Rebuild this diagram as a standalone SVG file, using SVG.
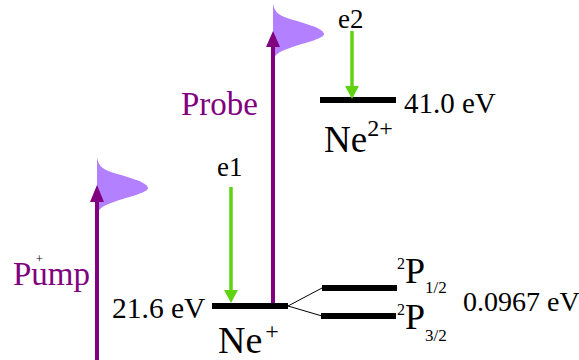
<svg xmlns="http://www.w3.org/2000/svg" width="579" height="360" viewBox="0 0 579 360">
<style>
text{fill:#000}
.lbl{fill:#800080}
.lvl{stroke:#000;stroke-width:6;fill:none}
.thin{stroke:#000;stroke-width:1;fill:none}
.pl{stroke:#800080;stroke-width:4;fill:none}
.gl{stroke:#5fd312;stroke-width:3.5;fill:none}
.pulse{fill:#b380ff}
</style>
<defs>
<path id="pulseShape" d="M0,0 C1,8 5,12 14,15 C30,20 51,25 51,31 C51,36 30,40 14,46 C5,49 1,53 0,58 Z"/>
</defs>
<rect width="579" height="360" fill="#fff"/>
<g font-family="Liberation Serif, Times New Roman, serif">
<g id="pump">
<use href="#pulseShape" class="pulse" transform="translate(97,157)"/>
<line class="pl" x1="97" y1="360" x2="97" y2="198"/>
<polygon points="97,185 90,202 104,202" fill="#800080"/>
<text class="lbl" x="13" y="285" font-size="33">Pump</text>
<text x="36" y="263" font-size="12" fill="#333">+</text>
</g>
<g id="probe">
<use href="#pulseShape" class="pulse" transform="translate(273,3)"/>
<line class="pl" x1="273" y1="303" x2="273" y2="44"/>
<polygon points="273,31 266,47 280,47" fill="#800080"/>
<text class="lbl" x="181" y="115" font-size="33">Probe</text>
</g>
<g id="ne-plus">
<line class="lvl" x1="212" y1="306" x2="288" y2="306"/>
<text x="112" y="318" font-size="29.5">21.6 eV</text>
<text x="218" y="353" font-size="38">Ne<tspan font-size="24" dx="3" dy="-14">+</tspan></text>
</g>
<g id="p12">
<line class="lvl" x1="322" y1="288" x2="397" y2="288"/>
<text x="397" y="283" font-size="36"><tspan font-size="16" dy="-14">2</tspan><tspan dy="14">P</tspan><tspan font-size="17" dy="10">1/2</tspan></text>
</g>
<g id="p32">
<line class="lvl" x1="321" y1="316" x2="396" y2="316"/>
<text x="397" y="329" font-size="36"><tspan font-size="16" dy="-14">2</tspan><tspan dy="14">P</tspan><tspan font-size="17" dy="12">3/2</tspan></text>
</g>
<text id="split" x="463" y="311" font-size="28">0.0967 eV</text>
<g id="ne2plus">
<line class="lvl" x1="320" y1="100" x2="396" y2="100"/>
<text x="404" y="113" font-size="29">41.0 eV</text>
<text x="324" y="152" font-size="37">Ne<tspan font-size="24" dy="-16">2+</tspan></text>
</g>
<g id="e1">
<text x="217" y="176" font-size="27">e1</text>
</g>
<g id="e2">
<text x="338" y="28" font-size="27">e2</text>
</g>
</g>
<g id="connectors">
<line class="thin" x1="288" y1="306" x2="322" y2="288"/>
<line class="thin" x1="288" y1="306" x2="322" y2="316"/>
<line class="gl" x1="231" y1="187" x2="231" y2="292"/>
<polygon points="231,303 224,290 238,290" fill="#5fd312"/>
<line class="gl" x1="352" y1="31" x2="352" y2="88"/>
<polygon points="352,99 345,86 359,86" fill="#5fd312"/>
</g>
</svg>
